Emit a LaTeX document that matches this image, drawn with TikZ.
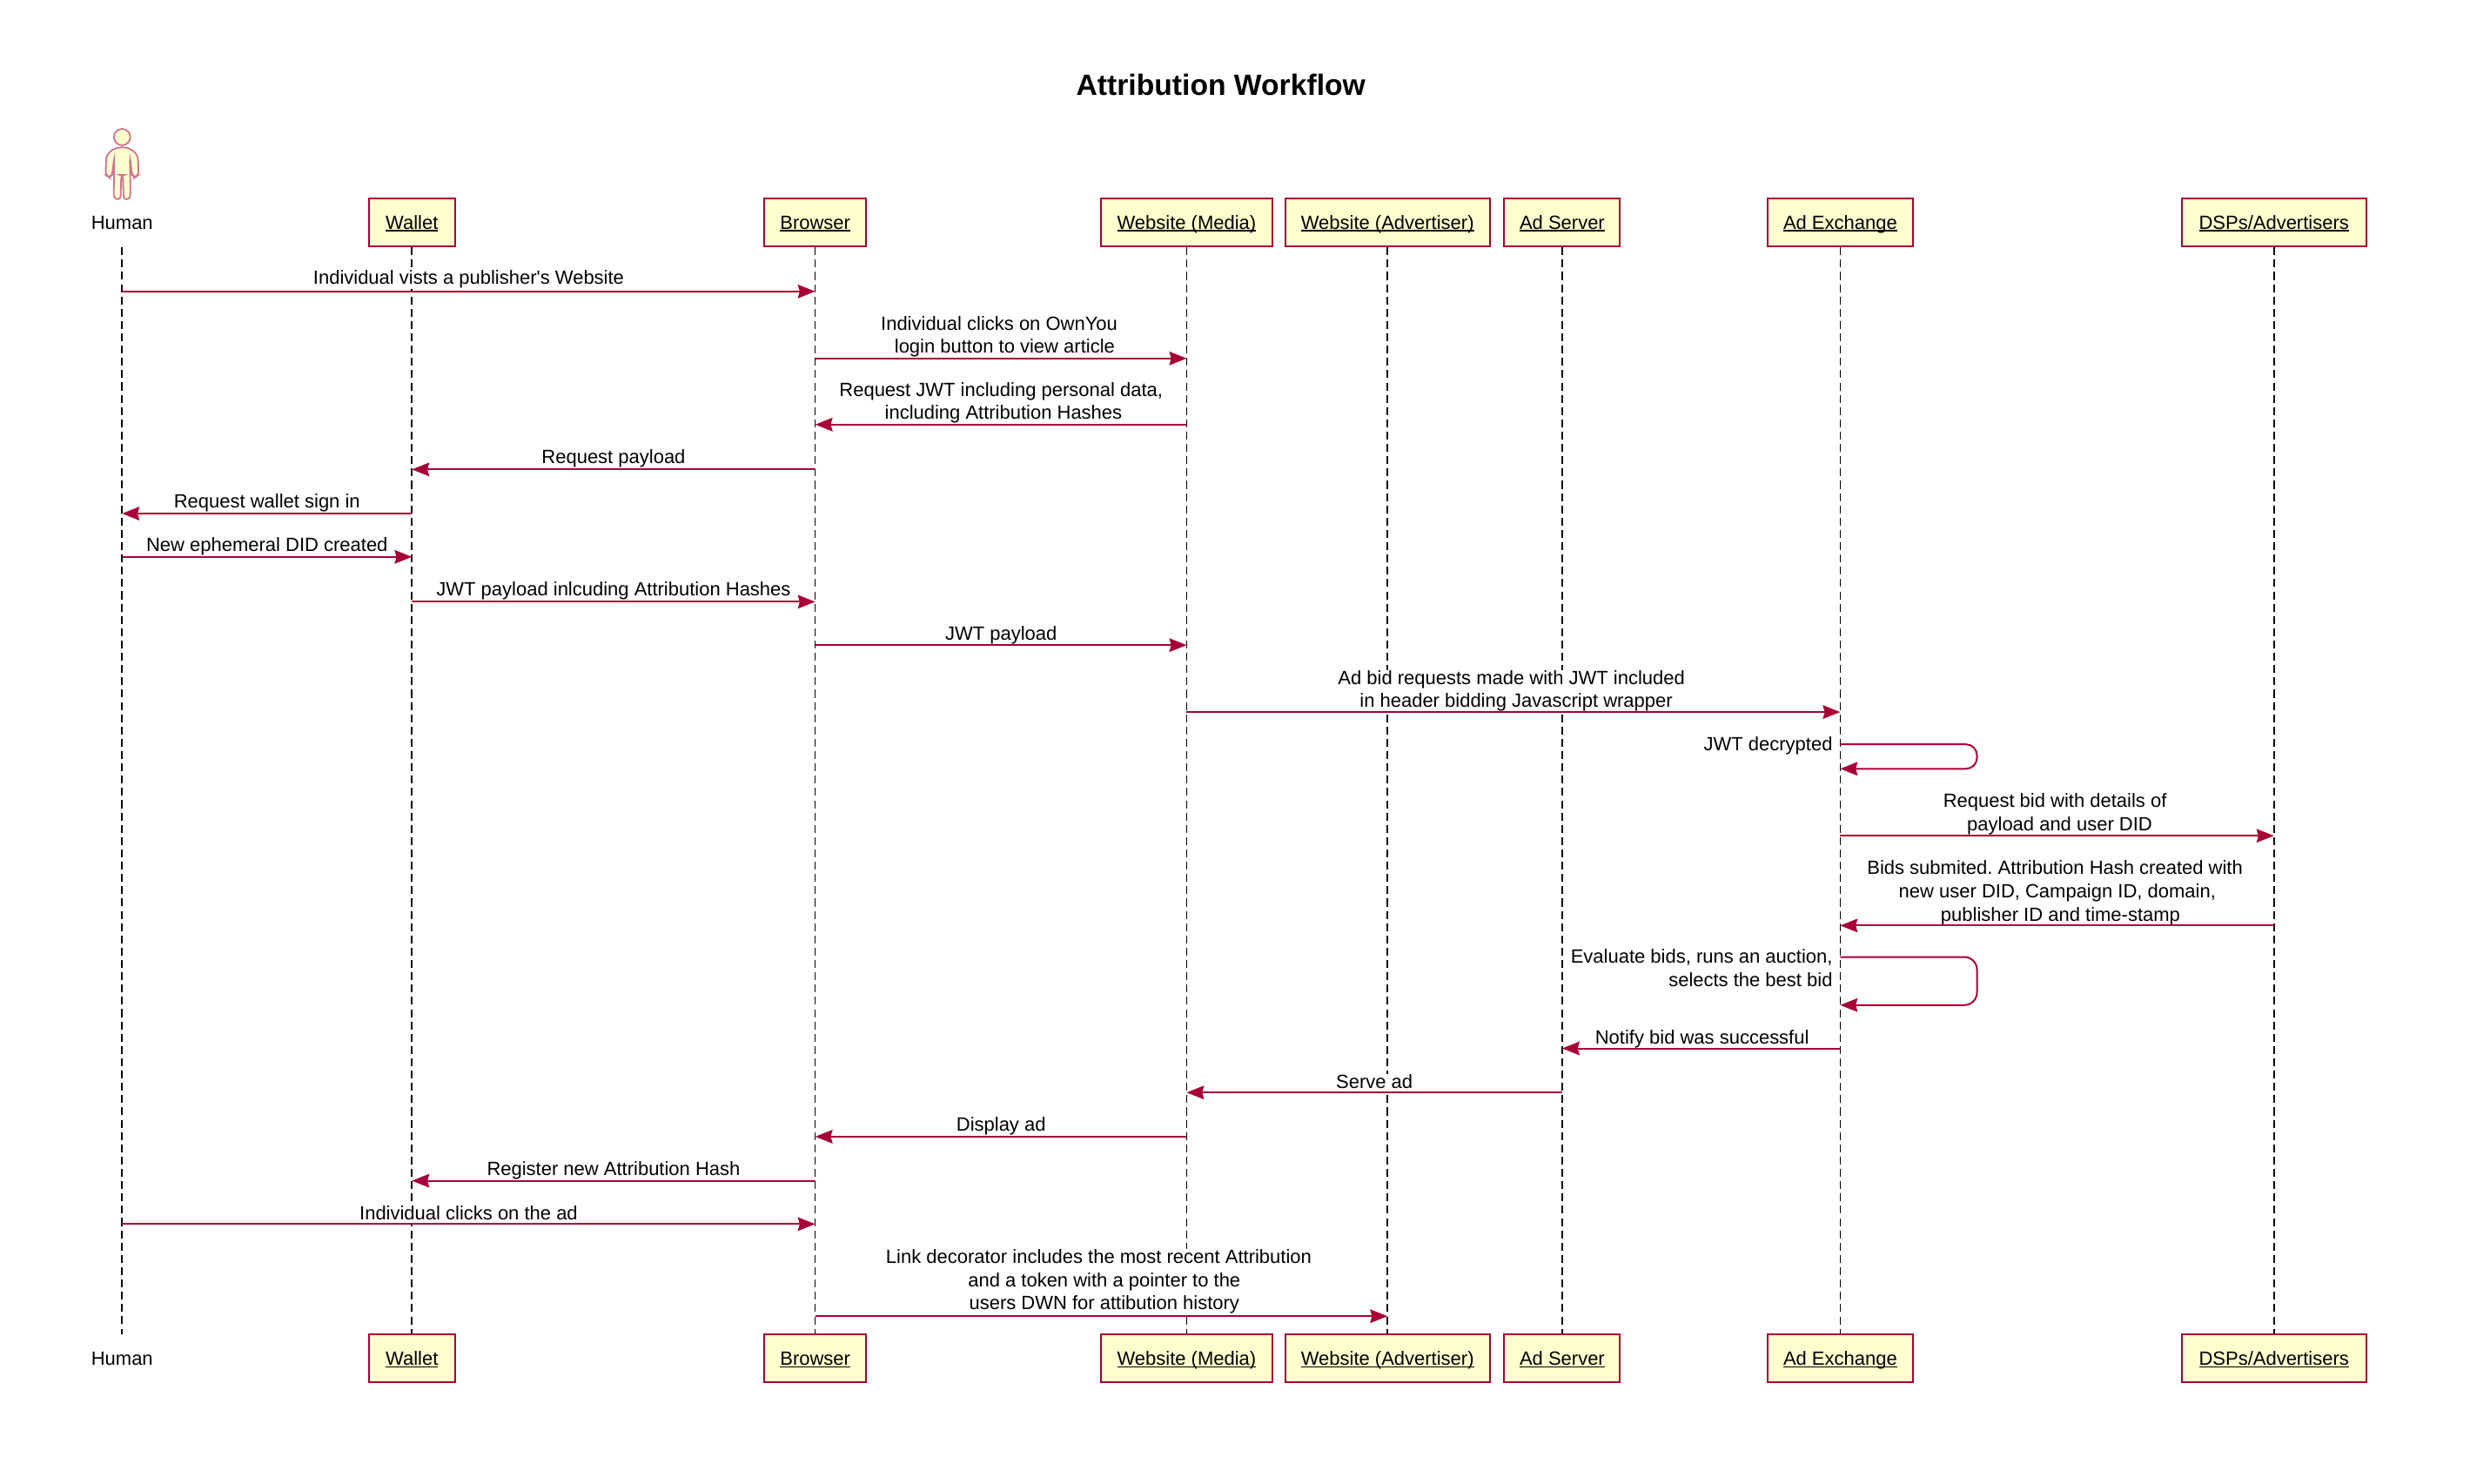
\documentclass[tikz,border=0pt]{standalone}
\usepackage{fontspec}
\setmainfont{Liberation Sans}
\usetikzlibrary{arrows.meta}
\definecolor{pu}{HTML}{A80036}
\definecolor{pf}{HTML}{FEFECE}
\frenchspacing
\tikzset{
  x=1pt,y=-1pt,
  box/.style={draw=pu,fill=pf,line width=1.1pt,minimum height=30.8pt,inner sep=0pt,text height=11.6pt,text depth=2.8pt,font=\fontsize{12.15}{15}\selectfont},
  plain/.style={inner sep=0pt,text height=11.6pt,text depth=2.8pt,font=\fontsize{12.15}{15}\selectfont},
  life/.style={draw=black,line width=.9pt,dash pattern=on 5pt off 2.8pt},
  head/.style={-{Stealth[length=11pt,width=8.6pt,inset=1.2pt]}},
  msg/.style={draw=pu,fill=none,line width=1.1pt,head},
  lab/.style={inner sep=0pt,yshift=-1pt,fill=white,align=center,font=\fontsize{12.15}{14.7}\selectfont},
  labr/.style={inner sep=0pt,yshift=-1pt,fill=white,align=right,anchor=east,font=\fontsize{12.15}{14.7}\selectfont},
  ttl/.style={inner sep=0pt,font=\fontsize{18.6}{22}\selectfont\bfseries},
  fig/.style={draw=pu!55,fill=pf,line width=1pt},
}
\newcommand{\st}{\rule[-2.8pt]{0pt}{11.9pt}}
\newcommand{\ul}[1]{\setbox0=\hbox{#1}\rlap{\rule[-1.3pt]{\wd0}{.75pt}}\box0}
\newcommand{\actorbox}[4]{\node[box,minimum width=#3pt] (#1a) at (#2,141.1) {\ul{#4}};\node[box,minimum width=#3pt] (#1b) at (#2,862.2) {\ul{#4}};\draw[life] (#1a.south) -- (#1b.north);}
\newcommand{\msgline}[6]{\node[lab] (#6) at #4 {\st #5\st};\draw[msg] (#1 |- 0,#3) -- (#2 |- 0,#3);}
\begin{document}
\begin{tikzpicture}
\useasboundingbox (0,0) rectangle (1568,942);
\node[ttl] (title) at (775,53.7) {Attribution Workflow};
% actor
\node[plain] (humana) at (77.5,141.1) {Human};
\node[plain] (humanb) at (77.5,862.2) {Human};
\coordinate (humantop) at (77.5,157);
\coordinate (humanbot) at (77.5,847);
\draw[life] (humantop) -- (humanbot);
\draw[fig,rounded corners=2pt]
 (75.5,93.5) -- (71,95) -- (67.5,99) -- (67,111) -- (69.5,112.8) -- (71.2,111) -- (72.5,100) -- (72.2,126) -- (76.5,126.8) -- (77,111) -- (78,111) -- (78.5,126.8) -- (82.8,126) -- (82.5,100) -- (83.8,111) -- (85.5,112.8) -- (88,111) -- (87.5,99) -- (84,95) -- (79.5,93.5) -- cycle;
\draw[fig] (77.5,87) circle[radius=5.2];
\actorbox{w}{261.5}{54.5}{Wallet}
\actorbox{br}{517.5}{65}{Browser}
\actorbox{me}{753.3}{109}{Website (Media)}
\actorbox{ad}{880.8}{130}{Website (Advertiser)}
\actorbox{se}{991.7}{73.5}{Ad Server}
\actorbox{ex}{1168.2}{92.5}{Ad Exchange}
\actorbox{ds}{1443.5}{117}{DSPs/Advertisers}
\msgline{humana}{bra}{185}{(297.5,176.5)}{Individual vists a publisher\textquotesingle s Website}{m1}
\msgline{bra}{mea}{227.5}{(634.3,212.8)}{Individual clicks on OwnYou\\\hspace*{7pt}login button to view article}{m2}
\msgline{mea}{bra}{269.5}{(635.5,254.8)}{Request JWT including personal data,\\\hspace*{3pt}including Attribution Hashes}{m3}
\msgline{bra}{wa}{298}{(389.5,290)}{Request payload}{m4}
\msgline{wa}{humana}{326}{(169.5,318.5)}{Request wallet sign in}{m5}
\msgline{humana}{wa}{353.5}{(169.5,346)}{New ephemeral DID created}{m6}
\msgline{wa}{bra}{382}{(389.5,374)}{JWT payload inlcuding Attribution Hashes}{m7}
\msgline{bra}{mea}{409.5}{(635.5,402)}{JWT payload}{m8}
\msgline{mea}{exa}{452}{(959.5,437.5)}{Ad bid requests made with JWT included\\\hspace*{6pt}in header bidding Javascript wrapper}{m9}
\node[labr] (m10) at (1163.5,472.5) {\st JWT decrypted\st};
\draw[msg,rounded corners=7pt] (exa |- 0,472.5) -- (1255,472.5) -- (1255,488) -- (exa |- 0,488);
\msgline{exa}{dsa}{530.5}{(1304.5,515.7)}{Request bid with details of\\\hspace*{6pt}payload and user DID}{m11}
\msgline{dsa}{exa}{587.5}{(1304.5,565.7)}{Bids submited. Attribution Hash created with\\\hspace*{3pt}new user DID, Campaign ID, domain,\\\hspace*{7pt}publisher ID and time-stamp}{m12}
\node[labr] (m13) at (1163.5,614.8) {\st Evaluate bids, runs an auction,\\selects the best bid\st};
\draw[msg,rounded corners=8pt] (exa |- 0,607.5) -- (1255,607.5) -- (1255,638) -- (exa |- 0,638);
\msgline{exa}{sea}{665.5}{(1080.5,658.7)}{Notify bid was successful}{m14}
\msgline{sea}{mea}{693.5}{(872.5,686.5)}{Serve ad}{m15}
\msgline{mea}{bra}{721.5}{(635.5,714)}{Display ad}{m16}
\msgline{bra}{wa}{749.5}{(389.5,742.2)}{Register new Attribution Hash}{m17}
\msgline{humana}{bra}{777}{(297.5,770)}{Individual clicks on the ad}{m18}
\msgline{bra}{ada}{835.5}{(697.5,812.5)}{Link decorator includes the most recent Attribution\\\hspace*{7pt}and a token with a pointer to the\\\hspace*{7pt}users DWN for attibution history}{m19}
\end{tikzpicture}
\end{document}
